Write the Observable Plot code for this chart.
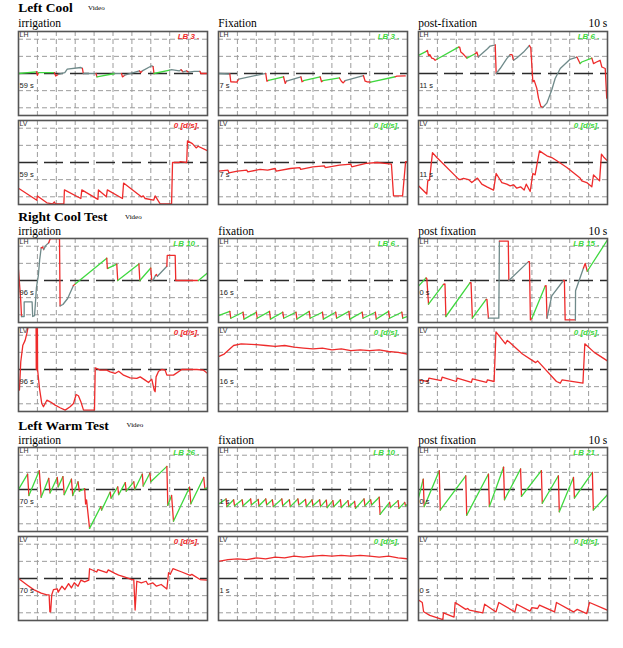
<!DOCTYPE html>
<html><head><meta charset="utf-8">
<script src="https://cdn.jsdelivr.net/npm/d3@7"></script>
<script src="https://cdn.jsdelivr.net/npm/@observablehq/plot@0.6"></script>
<style>
html,body{margin:0;padding:0;background:#fff}
#page{position:relative;width:623px;height:648px;overflow:hidden;background:#fff}
.lbl{position:absolute;white-space:nowrap;line-height:1;font-family:"Liberation Serif","Times New Roman",serif;color:#000}
.sec{font-weight:bold;font-size:13.5px}
.vid{font-size:7px}
.col{font-size:11.5px}
.pn{position:absolute}
.pn svg{display:block;overflow:visible}
</style></head><body><div id="page"></div><script>
// ---------- DATA ----------
const sectionTitles = ["Left Cool", "Right Cool Test", "Left Warm Test"];
const columnTitles = [["irrigation", "Fixation", "post-fixation"], ["irrigation", "fixation", "post fixation"], ["irrigation", "fixation", "post fixation"]];
const startTimes = [["59 s", "7 s", "11 s"], ["96 s", "16 s", "0 s"], ["70 s", "1 s", "0 s"]];
const beatCounts = [[3, 3, 6], [10, 6, 15], [26, 10, 21]];
const beatFlagged = [[true, false, false], [false, false, false], [false, false, false]];
const velValues = [[0, 0, 0], [0, 0, 0], [0, 0, 0]];
const velFlagged = [[true, false, false], [true, false, false], [true, false, false]];
const windowLabel = "10 s";
const gridT = [1, 2, 3, 4, 5, 6, 7, 8, 9];
const gridV = [-2, -1, 1, 2];

// traces: [time s, position (grid units), phase of segment ending here: s=slow, f=fast, u=unclassified]
const lcIrrLH = [[0,0,""],[0.95,0.1,"s"],[1.0,-0.1,"f"],[1.06,0.05,"f"],[1.9,0.05,"s"],[1.97,-0.15,"f"],[2.1,-0.05,"f"],[2.45,0.05,"u"],[2.58,0.25,"u"],[3.3,0.35,"u"],[3.38,0.3,"u"],[3.43,0,"f"],[4.1,0,"u"],[4.15,-0.2,"f"],[5.1,0,"s"],[5.45,0,"u"],[5.5,-0.2,"f"],[5.62,-0.1,"f"],[6.4,0.15,"u"],[6.47,0.05,"f"],[6.55,0.15,"f"],[7.05,0.45,"u"],[7.12,0.4,"u"],[7.17,0,"f"],[8.0,0.2,"s"],[8.1,0.22,"u"],[8.5,0.15,"u"],[8.6,0.22,"u"],[8.7,0.1,"f"],[8.9,0.15,"u"],[9.0,0.08,"f"],[9.3,0.12,"u"],[9.6,0.12,"u"],[9.65,0,"f"],[10,0,"f"]];
const lcIrrLV = [[0,-1.5],[0.97,-2.2],[1.0,-1.95],[1.5,-2.35],[1.8,-2.42],[1.9,-2.3],[1.95,-2.42],[2.4,-2.42],[2.43,-1.6],[3.3,-2.1],[3.35,-1.6],[4.2,-2.15],[4.23,-1.6],[4.65,-2.0],[4.7,-1.6],[5.5,-2.1],[5.56,-1.2],[6.5,-2.0],[6.6,-1.95],[6.7,-2.1],[7.15,-2.2],[7.23,-1.95],[7.5,-2.42],[8.1,-2.42],[8.15,0],[8.5,0],[8.55,0.05],[8.9,0],[8.94,1.26],[9.2,1.1],[9.4,0.85],[9.5,0.95],[10,0.68]];
const lcFixLH = [[0,0,""],[0.6,-0.03,"u"],[0.65,-0.48,"f"],[0.97,-0.5,"f"],[1.07,-0.33,"f"],[2.38,-0.02,"u"],[2.5,0,"u"],[2.56,-0.45,"f"],[2.65,-0.4,"f"],[3.44,-0.19,"s"],[3.53,-0.58,"f"],[3.6,-0.44,"f"],[4.36,-0.2,"u"],[4.42,-0.48,"f"],[4.5,-0.42,"f"],[5.38,-0.2,"s"],[5.45,-0.48,"f"],[5.52,-0.42,"f"],[6.4,-0.26,"s"],[6.5,-0.45,"f"],[6.6,-0.55,"f"],[6.7,-0.42,"f"],[7.67,-0.13,"u"],[7.76,-0.45,"f"],[7.85,-0.48,"f"],[8.05,-0.5,"f"],[9.35,-0.19,"s"],[9.44,-0.15,"f"],[9.88,-0.14,"f"]];
const lcFixLV = [[0,-0.5],[0.5,-0.45],[0.55,-0.6],[1.0,-0.5],[1.5,-0.45],[1.55,-0.55],[2.2,-0.4],[2.6,-0.45],[3.0,-0.35],[3.05,-0.5],[3.8,-0.35],[4.3,-0.3],[4.35,-0.4],[5.0,-0.25],[5.6,-0.2],[5.65,-0.3],[6.4,-0.15],[7.0,-0.1],[7.05,-0.25],[7.8,-0.05],[8.4,0],[8.8,-0.05],[9.15,-0.1],[9.26,-1.95],[9.74,-1.95],[9.9,0.05],[10,0.05]];
const lcPostLH = [[0,1.06,""],[0.41,1.29,"s"],[0.47,1.35,"f"],[0.53,1.06,"f"],[0.6,1.1,"f"],[0.7,0.9,"f"],[0.8,0.87,"f"],[0.88,0.77,"f"],[0.97,0.83,"f"],[2.12,1.54,"s"],[2.18,1.54,"f"],[2.24,1.25,"f"],[2.35,1.15,"f"],[2.56,0.9,"f"],[3.0,1.15,"s"],[3.09,1.25,"f"],[3.17,0.96,"f"],[3.26,1.06,"u"],[3.65,1.44,"u"],[3.79,1.6,"u"],[4.06,1.67,"u"],[4.11,0,"f"],[4.32,0.29,"u"],[4.67,0.87,"u"],[4.85,1.1,"u"],[4.95,1.1,"f"],[5.03,0.77,"f"],[5.2,0.9,"u"],[5.56,1.25,"u"],[5.87,1.63,"u"],[5.94,1.5,"f"],[6.05,-0.48,"f"],[6.12,-0.4,"f"],[6.26,-0.87,"f"],[6.35,-1.44,"f"],[6.47,-1.92,"f"],[6.58,-1.98,"f"],[6.79,-1.73,"u"],[7.05,-0.96,"u"],[7.23,-0.29,"u"],[7.5,0.29,"u"],[8.02,0.83,"u"],[8.38,0.96,"u"],[8.55,0.58,"f"],[8.64,0.67,"s"],[9.17,0.9,"s"],[9.26,0.58,"f"],[9.42,0.67,"f"],[9.61,0.77,"f"],[9.7,0.38,"f"],[9.88,0.29,"f"],[9.96,-1.44,"f"]];
const lcPostLV = [[0,-1.36],[0.44,-1.84],[0.49,-1.07],[0.58,-1.03],[0.74,0.58],[0.97,0.29],[2.12,-0.97],[2.2,-1.0],[2.38,-0.93],[2.65,-1.0],[2.82,-1.17],[3.12,-0.91],[3.35,-1.26],[3.62,-1.42],[3.97,-1.61],[4.11,-0.64],[4.41,-1.17],[4.67,-1.26],[4.85,-1.36],[5.03,-1.3],[5.2,-1.5],[5.4,-1.42],[5.59,-1.61],[5.7,-1.26],[5.91,-1.69],[6.05,-0.64],[6.17,-0.72],[6.4,0.68],[6.79,0.39],[7.05,0.29],[7.32,0.1],[7.85,-0.29],[8.55,-0.91],[8.64,-1.07],[8.9,-1.17],[9.17,-1.42],[9.26,-0.72],[9.58,-1.07],[9.68,0.49],[9.82,0.29],[10,0.1]];

const rcIrrLH = [[0,0.63,""],[0.12,-1.2,"f"],[0.16,-2.1,"f"],[0.3,-2.1,"u"],[0.3,-1.25,"u"],[0.72,-1.25,"u"],[0.75,-2.1,"u"],[0.85,-2.05,"u"],[0.95,-0.4,"u"],[1.05,0.3,"u"],[1.12,1.2,"u"],[1.2,1.9,"u"],[1.28,1.95,"f"],[1.33,1.8,"f"],[1.45,2.05,"u"],[1.6,2.2,"u"],[1.68,2.45,"f"],[2.17,2.45,"f"],[2.2,-1.48,"f"],[2.35,-1.4,"u"],[2.6,-1.05,"u"],[2.9,-0.3,"u"],[3.0,-0.2,"f"],[4.67,1.3,"s"],[4.7,0.7,"f"],[4.75,0.72,"f"],[5.2,0.95,"s"],[5.25,0,"f"],[6.37,0.96,"s"],[6.42,0,"f"],[7.0,0.73,"s"],[7.05,0,"f"],[7.14,0.05,"u"],[7.25,0.3,"u"],[7.3,0.35,"f"],[7.35,0.25,"f"],[7.85,0.83,"u"],[7.87,1.46,"f"],[8.29,1.46,"f"],[8.32,0,"f"],[9.52,0,"f"],[10,0.44,"s"]];
const rcIrrLV = [[0,-1.0],[0.05,-1.2],[0.12,0.45],[0.23,1.42],[0.35,1.7],[0.44,2.1],[0.53,2.6],[0.93,2.6],[0.94,0],[0.96,0],[0.97,2.6],[1.0,2.6],[1.01,0],[1.11,-1.1],[1.23,-1.98],[1.32,-2.17],[1.5,-1.79],[1.7,-1.9],[1.94,-2.08],[2.2,-2.23],[2.47,-2.37],[2.73,-2.17],[2.91,-1.98],[3.05,-1.46],[3.17,-1.53],[3.3,-1.88],[3.44,-2.37],[4.02,-2.37],[4.06,0.1],[4.32,-0.04],[4.67,-0.04],[4.85,-0.14],[5.11,-0.23],[5.3,-0.1],[5.56,-0.33],[5.91,-0.49],[6.26,-0.52],[6.44,-0.43],[6.7,-0.62],[6.88,-0.76],[7.05,-0.56],[7.18,-1.2],[7.23,-1.3],[7.28,-0.43],[7.41,-0.1],[7.58,0],[7.76,-0.04],[7.85,-0.33],[8.2,-0.33],[8.64,0],[9.44,0],[9.79,-0.04],[10,-0.23]];
const rcFixLH = [[0,-2.05,""],[0.6,-1.8,"s"],[0.65,-2.2,"f"],[1.3,-1.85,"s"],[1.35,-2.25,"f"],[2.0,-1.85,"s"],[2.05,-2.2,"f"],[2.7,-1.8,"s"],[2.75,-2.25,"f"],[3.4,-1.85,"s"],[3.45,-2.2,"f"],[4.1,-1.85,"s"],[4.15,-2.25,"f"],[4.8,-1.8,"s"],[4.85,-2.2,"f"],[5.5,-1.85,"s"],[5.55,-2.25,"f"],[6.2,-1.85,"s"],[6.25,-2.2,"f"],[6.9,-1.8,"s"],[6.95,-2.25,"f"],[7.6,-1.85,"s"],[7.65,-2.2,"f"],[8.3,-1.85,"s"],[8.35,-2.25,"f"],[9.0,-1.8,"s"],[9.05,-2.2,"f"],[9.7,-1.85,"s"],[9.75,-2.2,"f"],[10,-2.1,"s"]];
const rcFixLV = [[0,0.75],[0.3,0.9],[0.8,1.4],[1.2,1.5],[2.0,1.45],[2.5,1.4],[3.0,1.35],[3.5,1.4],[4.0,1.3],[4.5,1.25],[5.0,1.2],[5.5,1.25],[6.0,1.15],[6.5,1.2],[7.0,1.1],[7.5,1.15],[8.0,1.1],[8.5,1.15],[9.0,1.05],[9.5,1.0],[10,0.9]];
const rcPostLH = [[0,-0.33,""],[0.4,0.15,"s"],[0.44,0.1,"f"],[0.53,-1.38,"f"],[1.32,-0.23,"s"],[1.4,-0.2,"f"],[1.45,-2.1,"f"],[2.73,-0.13,"s"],[2.78,-0.13,"f"],[2.85,-2.2,"f"],[3.58,-1.1,"s"],[3.62,-1.1,"f"],[3.7,-2.2,"f"],[4.25,-2.2,"u"],[4.28,2.3,"u"],[4.75,2.3,"f"],[4.78,0,"f"],[5.82,1.1,"u"],[5.87,1.1,"f"],[5.92,-2.3,"f"],[6.0,-2.2,"f"],[6.7,-0.33,"s"],[6.75,-0.3,"f"],[6.8,-2.2,"f"],[7.05,-0.9,"u"],[7.67,0,"u"],[7.72,0,"f"],[7.76,-2.3,"f"],[8.3,-2.3,"f"],[8.31,-0.6,"u"],[8.73,0.73,"u"],[8.82,1.0,"f"],[8.93,0.54,"f"],[10,2.37,"s"]];
const rcPostLV = [[0,-0.6],[0.5,-0.7],[0.55,-0.5],[1.2,-0.65],[1.25,-0.45],[2.0,-0.7],[2.05,-0.5],[2.8,-0.75],[2.85,-0.55],[3.6,-0.75],[3.65,-0.6],[4.0,-0.7],[4.1,2.2],[4.6,1.5],[4.7,1.7],[5.5,0.9],[6.2,0.4],[6.3,0.5],[7.3,-0.7],[7.5,-0.8],[7.6,-0.6],[8.7,-0.8],[8.8,1.5],[9.3,1.0],[10,0.5]];

const lwIrrLH = [[0,0,""],[0.48,0.9,"s"],[0.55,-0.35,"f"],[1.1,1.1,"s"],[1.2,-0.45,"f"],[1.6,0.65,"s"],[1.67,-0.2,"f"],[2.05,0.7,"s"],[2.1,0.15,"f"],[2.35,0.75,"s"],[2.42,-0.3,"f"],[2.8,0.6,"s"],[2.87,-0.35,"f"],[3.15,0.45,"s"],[3.22,-0.1,"f"],[3.5,0.05,"s"],[3.55,-0.85,"f"],[3.6,-0.6,"f"],[3.76,-2.27,"f"],[4.35,-1.0,"s"],[4.4,-1.2,"f"],[4.85,-0.15,"s"],[4.9,-0.5,"f"],[5.25,0.15,"s"],[5.3,-0.3,"f"],[5.65,0.4,"s"],[5.7,-0.1,"f"],[6.1,0.45,"s"],[6.15,0.0,"f"],[6.55,0.9,"s"],[6.6,0.2,"f"],[6.95,0.95,"s"],[7.0,0.45,"f"],[7.85,1.35,"s"],[7.9,-0.92,"f"],[8.1,-0.35,"s"],[8.2,-1.85,"f"],[9.05,0.13,"s"],[9.12,-0.83,"f"],[9.8,0.7,"s"],[9.86,0.05,"f"],[10,0.1,"s"]];
const lwIrrLV = [[0,0],[0.44,-0.36],[0.8,-0.65],[1.0,-0.75],[1.2,-0.85],[1.5,-0.95],[1.62,-0.95],[1.66,-1.94],[1.7,-1.94],[1.76,-0.95],[1.85,-0.65],[2.05,-0.6],[2.1,-0.8],[2.3,-0.45],[2.45,-0.65],[2.65,-0.3],[2.8,-0.55],[2.95,-0.25],[3.15,-0.45],[3.3,-0.1],[3.5,-0.2],[3.72,-0.1],[3.76,0.57],[4.14,0.38],[4.2,0.52],[4.67,0.34],[4.75,0.5],[5.1,0.3],[5.3,0.2],[5.6,0.1],[6.0,-0.06],[6.1,-0.06],[6.17,-1.84],[6.26,-0.16],[6.5,-0.25],[6.75,-0.16],[6.85,-0.35],[7.1,-0.25],[7.3,-0.45],[7.55,-0.35],[7.85,-0.61],[7.94,0.34],[8.03,0.25],[8.17,0.57],[8.64,0.38],[9.08,0.18],[9.17,0.24],[9.61,-0.06],[10,-0.1]];
const lwFixLH = [[0,-0.85,""],[0.4,-0.55,"s"],[0.45,-1.0,"f"],[0.8,-0.6,"s"],[0.85,-0.95,"f"],[1.25,-0.6,"s"],[1.3,-0.95,"f"],[1.7,-0.55,"s"],[1.74,-0.9,"f"],[2.1,-0.58,"s"],[2.14,-0.95,"f"],[2.5,-0.55,"s"],[2.55,-0.9,"f"],[2.85,-0.6,"s"],[2.9,-1.0,"f"],[3.35,-0.55,"s"],[3.4,-0.95,"f"],[3.75,-0.6,"s"],[3.8,-1.0,"f"],[4.2,-0.55,"s"],[4.25,-0.9,"f"],[4.6,-0.58,"s"],[4.65,-1.0,"f"],[4.95,-0.6,"s"],[5.0,-0.95,"f"],[5.35,-0.6,"s"],[5.4,-1.0,"f"],[5.7,-0.62,"s"],[5.75,-1.05,"f"],[6.05,-0.65,"s"],[6.1,-1.0,"f"],[6.45,-0.6,"s"],[6.5,-1.05,"f"],[6.85,-0.65,"s"],[6.9,-1.0,"f"],[7.2,-0.7,"s"],[7.25,-1.1,"f"],[7.7,-0.55,"s"],[7.75,-0.95,"f"],[8.05,-0.6,"s"],[8.1,-0.9,"f"],[8.5,-0.45,"s"],[8.55,-1.45,"f"],[9.05,-0.75,"s"],[9.1,-1.05,"f"],[9.5,-0.65,"s"],[9.55,-1.1,"f"],[9.85,-0.75,"s"],[9.9,-0.95,"f"],[10,-0.85,"s"]];
const lwFixLV = [[0,1.0],[0.5,1.1],[1,1.15],[1.5,1.1],[2,1.2],[2.5,1.15],[3,1.25],[3.5,1.2],[4,1.3],[4.5,1.25],[5,1.3],[5.5,1.35],[6,1.3],[6.5,1.35],[7,1.3],[7.5,1.35],[8,1.3],[8.5,1.25],[9,1.3],[9.5,1.2],[10,1.15]];
const lwPostLH = [[0,-0.5,""],[0.25,0.6,"s"],[0.3,-1.0,"f"],[1.1,1.1,"s"],[1.15,-1.2,"f"],[2.5,0.8,"s"],[2.55,-1.5,"f"],[3.7,0.9,"s"],[3.75,-1.0,"f"],[4.5,1.3,"s"],[4.55,-0.6,"f"],[5.4,1.2,"s"],[5.45,-0.4,"f"],[6.5,1.1,"s"],[6.55,-0.8,"f"],[7.4,0.8,"s"],[7.45,-1.3,"f"],[8.2,0.7,"s"],[8.25,-0.5,"f"],[9.2,1.0,"s"],[9.25,-1.2,"f"],[10,-0.3,"s"]];
const lwPostLV = [[0,-1.25],[0.2,-1.4],[0.27,-1.94],[0.6,-2.15],[1.29,-2.4],[1.32,-2.0],[1.88,-2.25],[1.94,-1.4],[2.5,-1.8],[2.6,-1.75],[2.7,-1.85],[3.4,-2.0],[3.5,-1.5],[4.1,-1.95],[4.25,-1.4],[5.1,-1.95],[5.2,-1.5],[5.9,-1.9],[6.0,-1.7],[6.3,-1.75],[6.4,-1.55],[7.2,-1.95],[7.3,-1.4],[8.2,-1.95],[8.4,-1.8],[8.9,-2.05],[9.05,-1.4],[10,-1.85]];

const lhTraces = [[lcIrrLH, lcFixLH, lcPostLH], [rcIrrLH, rcFixLH, rcPostLH], [lwIrrLH, lwFixLH, lwPostLH]];
const lvTraces = [[lcIrrLV, lcFixLV, lcPostLV], [rcIrrLV, rcFixLV, rcPostLV], [lwIrrLV, lwFixLV, lwPostLV]];

// ---------- LAYOUT / STYLE ----------
const COLX = [18.3, 218.3, 418.3];
const PW = 189, PH = 84, M = 2;
const SEC = [
  {title: 12.7, video: 10.5, vx: 88, cols: 27.3, lh: 31},
  {title: 221.7, video: 220, vx: 125, cols: 235.7, lh: 238.3},
  {title: 430, video: 427.5, vx: 126.5, cols: 444.3, lh: 447.3}
];
const LVOFF = 88.5;
const GREEN = "#3fd83f", RED = "#ee2b2b", GRAY = "#6f8a8a";
const phaseColor = {s: GREEN, f: RED, u: GRAY};
const page = document.getElementById("page");

function addText(txt, cls, fs, x, baseline, right) {
  const d = document.createElement("div");
  d.className = "lbl " + cls;
  d.textContent = txt;
  d.style.top = (baseline - 0.8375 * fs) + "px";
  if (right) d.style.right = (623 - x) + "px"; else d.style.left = x + "px";
  page.appendChild(d);
}

function rowsOf(pts, allFast) {
  const rows = []; let run = 0, prev = null;
  for (let i = 1; i < pts.length; i++) {
    const p = allFast ? "f" : pts[i][2];
    if (p !== prev) { run++; prev = p; rows.push({t: pts[i - 1][0], y: pts[i - 1][1], run, c: phaseColor[p]}); }
    rows.push({t: pts[i][0], y: pts[i][1], run, c: phaseColor[p]});
  }
  return rows;
}

function panel(pts, isLV, rowLabel, startLabel, note, noteColor) {
  return Plot.plot({
    width: PW + 2 * M, height: PH + 2 * M, margin: M,
    x: {domain: [0, 10], axis: null},
    y: {domain: [-2.45, 2.45], axis: null},
    color: {type: "identity"},
    style: {background: "transparent", overflow: "visible", fontFamily: "'Liberation Sans', Arial, sans-serif"},
    marks: [
      Plot.ruleX(gridT, {stroke: "#9c9c9c", strokeWidth: 1, strokeDasharray: "5,3"}),
      Plot.ruleY(gridV, {stroke: "#9c9c9c", strokeWidth: 1, strokeDasharray: "5,3"}),
      Plot.ruleY([0], {stroke: "#2a2a2a", strokeWidth: 1.5, strokeDasharray: "19,7"}),
      Plot.line(rowsOf(pts, isLV), {x: "t", y: "y", z: "run", stroke: "c", strokeWidth: 1.3, clip: true}),
      Plot.frame({stroke: "#555", strokeWidth: 1.6}),
      Plot.text([rowLabel], {frameAnchor: "top-left", dx: 1, dy: 1, fontSize: 7, fill: "#333"}),
      Plot.text([startLabel], {x: 0, y: -0.72, textAnchor: "start", dx: 1, fontSize: 7.5, fill: "#222"}),
      Plot.text([note], {frameAnchor: "top-right", dx: -8, dy: 1.5, fontSize: 8, fontStyle: "italic", fontWeight: "bold", fill: noteColor})
    ]
  });
}

function place(svg, x, y) {
  const d = document.createElement("div");
  d.className = "pn";
  d.style.left = (x - M) + "px";
  d.style.top = (y - M) + "px";
  d.appendChild(svg);
  page.appendChild(d);
}

SEC.forEach((s, i) => {
  addText(sectionTitles[i], "sec", 13.5, 18.3, s.title);
  addText("Video", "vid", 7, s.vx, s.video);
  columnTitles[i].forEach((ct, j) => addText(ct, "col", 11.5, COLX[j], s.cols));
  addText(windowLabel, "col", 11.5, 607.3, s.cols, true);
  for (let j = 0; j < 3; j++) {
    place(panel(lhTraces[i][j], false, "LH", startTimes[i][j], `LB ${beatCounts[i][j]} .`, beatFlagged[i][j] ? RED : GREEN), COLX[j], s.lh);
    place(panel(lvTraces[i][j], true, "LV", startTimes[i][j], `${velValues[i][j]} [d/s].`, velFlagged[i][j] ? RED : GREEN), COLX[j], s.lh + LVOFF);
  }
});
</script></body></html>
